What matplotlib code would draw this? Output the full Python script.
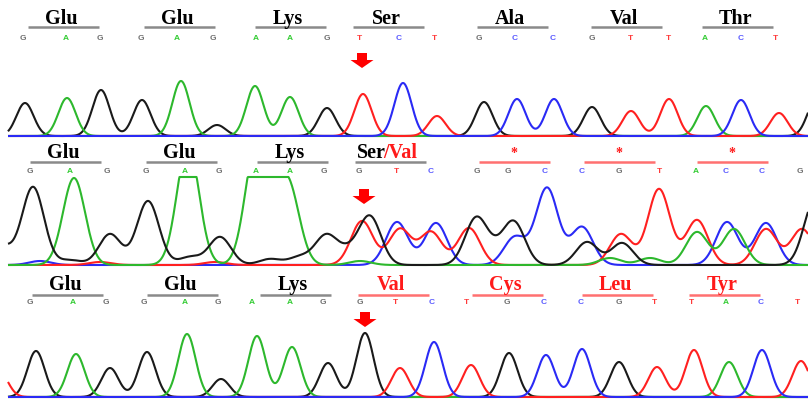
import matplotlib.pyplot as plt
import numpy as np
from matplotlib.patches import Polygon

# ---- panel 1: wild type ----
P1_BASES = "GAGGAGAAGTCTGCCGTTACT"
P1_BASE_X = [23, 66, 100, 141, 177, 213, 256, 290, 327, 359, 399, 434,
             479, 515, 553, 592, 630, 668, 705, 741, 775]
P1_CODONS = ["Glu", "Glu", "Lys", "Ser", "Ala", "Val", "Thr"]
# peaks (position, height) per channel
P1_G = [(25, 33), (101, 46), (142, 36), (217, 11), (327, 28), (484, 34),
        (592, 29), (816, 36)]
P1_A = [(67, 38), (181, 55), (255, 50), (290, 39), (706, 30)]
P1_T = [(363, 42), (437, 20), (631, 25), (669, 37), (779, 23)]
P1_C = [(403, 53), (517, 37), (554, 37), (741, 36)]

# ---- panel 2: heterozygous / frameshift ----
P2_BASES = "GAGGAGAAGGTCGGCCGTACCG"
P2_BASE_X = [30, 70, 107, 146, 185, 219, 256, 290, 324, 359, 396, 431,
             477, 508, 545, 582, 619, 659, 696, 726, 762, 800]
P2_CODONS = ["Glu", "Glu", "Lys", "Ser/Val", "*", "*", "*"]
P2_G = [(0, 20), (33, 78), (70, 5), (110, 31), (148, 64), (190, 8),
        (220, 28), (270, 6), (300, 8), (326, 29), (348, 12), (370, 48),
        (476, 46), (495, 10), (514, 42), (587, 23), (622, 22), (815, 65)]
P2_A = [(74, 87), (188, 120), (256, 115), (274, 35), (289, 72), (360, 4),
        (610, 7), (650, 7), (697, 33), (734, 36)]
P2_T = [(100, 3), (215, 3), (362, 44), (400, 36), (431, 33), (469, 37),
        (621, 31), (659, 76), (697, 45), (766, 36), (802, 36)]
P2_C = [(40, 4), (397, 43), (436, 42), (515, 28), (547, 77), (582, 38),
        (727, 43), (766, 42)]
P2_SATURATION = 88

# ---- panel 3: mutant ----
P3_BASES = "GAGGAGAAGGTCTGCCGTTACT"
P3_BASE_X = [30, 73, 106, 144, 185, 218, 252, 290, 323, 360, 395, 432,
             466, 507, 544, 581, 619, 654, 691, 726, 761, 797]
P3_CODONS = ["Glu", "Glu", "Lys", "Val", "Cys", "Leu", "Tyr"]
P3_G = [(36, 46), (110, 29), (147, 45), (221, 18), (328, 34), (365, 64),
        (509, 44), (619, 35)]
P3_A = [(76, 43), (187, 63), (257, 61), (292, 50), (729, 35)]
P3_T = [(-1, 26), (400, 29), (471, 32), (657, 30), (694, 47), (801, 36)]
P3_C = [(434, 55), (546, 42), (582, 48), (762, 47)]

COLORS = {"G": "#1a1a1a", "A": "#2db82d", "T": "#ff2020", "C": "#2a2af5"}
LETTER_COLORS = {"G": "#6e6e6e", "A": "#33cc33", "T": "#ff3a3a", "C": "#5a5aff"}
RED = "#ff1a1a"

panels = [
    dict(bases=P1_BASES, bx=P1_BASE_X, codons=P1_CODONS,
         ch={"G": P1_G, "A": P1_A, "T": P1_T, "C": P1_C}, order="GATC",
         sigma=8.6, base=136, cap=None, label_y=24, line_y=27, letter_y=40.5,
         starts=[28, 144, 255, 353, 477, 591, 702], red_from=99,
         arrow=(362, 53)),
    dict(bases=P2_BASES, bx=P2_BASE_X, codons=P2_CODONS,
         ch={"G": P2_G, "A": P2_A, "T": P2_T, "C": P2_C}, order="CTAG",
         sigma=11, base=265, cap=P2_SATURATION, label_y=158, line_y=162,
         letter_y=173, starts=[30, 146, 257, 355, 479, 584, 697], red_from=4,
         arrow=(364, 189)),
    dict(bases=P3_BASES, bx=P3_BASE_X, codons=P3_CODONS,
         ch={"G": P3_G, "A": P3_A, "T": P3_T, "C": P3_C}, order="GATC",
         sigma=8.6, base=397, cap=None, label_y=290, line_y=294.5,
         letter_y=304.5, starts=[32, 147, 260, 358, 472, 582, 689], red_from=3,
         arrow=(365, 312)),
]

fig = plt.figure(figsize=(8.08, 3.99), dpi=100)
ax = fig.add_axes([0, 0, 1, 1])
ax.set_xlim(0, 808)
ax.set_ylim(399, 0)
ax.axis("off")

x = np.linspace(8, 808, 1601)
serif = dict(family="Liberation Serif", fontweight="bold", fontsize=14.5)

for p in panels:
    # traces
    for b in p["order"]:
        y = np.zeros_like(x)
        for c, a in p["ch"][b]:
            y += a * np.exp(-0.5 * ((x - c) / p["sigma"]) ** 2)
        if p["cap"] is not None:
            y = np.minimum(y, p["cap"])
        ax.plot(x, p["base"] - y, color=COLORS[b], lw=1.5,
                solid_capstyle="butt")

    # base calls
    for b, bx in zip(p["bases"], p["bx"]):
        ax.text(bx, p["letter_y"], b, color=LETTER_COLORS[b], fontsize=6,
                fontweight="bold", family="Liberation Sans", ha="center",
                va="baseline")

    # codon labels with underlines
    for i, (name, s) in enumerate(zip(p["codons"], p["starts"])):
        red = i >= p["red_from"] or name == "*"
        ax.plot([s, s + 71], [p["line_y"]] * 2,
                color="#ff7070" if red else "#8a8a8a", lw=1.8,
                solid_capstyle="butt")
        cx = s + 33
        if "/" in name:
            left, right = name.split("/")
            ax.text(s + 30.5, p["label_y"], left, color="black", ha="right",
                    va="baseline", **serif)
            ax.text(s + 28.5, p["label_y"], "/" + right, color=RED, ha="left",
                    va="baseline", **serif)
        elif name == "*":
            ax.text(s + 35, p["label_y"] - 1, name, color=RED, ha="center",
                    va="baseline", family="Liberation Serif",
                    fontweight="bold", fontsize=10)
        else:
            ax.text(cx, p["label_y"], name, color=RED if red else "black",
                    ha="center", va="baseline", **serif)

    # mutation arrow
    ax_x, ay = p["arrow"]
    ax.add_patch(Polygon([(ax_x - 5, ay), (ax_x + 5, ay), (ax_x + 5, ay + 7),
                          (ax_x + 11.5, ay + 7), (ax_x, ay + 15),
                          (ax_x - 11.5, ay + 7), (ax_x - 5, ay + 7)],
                         closed=True, color="#ff0000", lw=0))

fig.savefig("out.png", dpi=100)
